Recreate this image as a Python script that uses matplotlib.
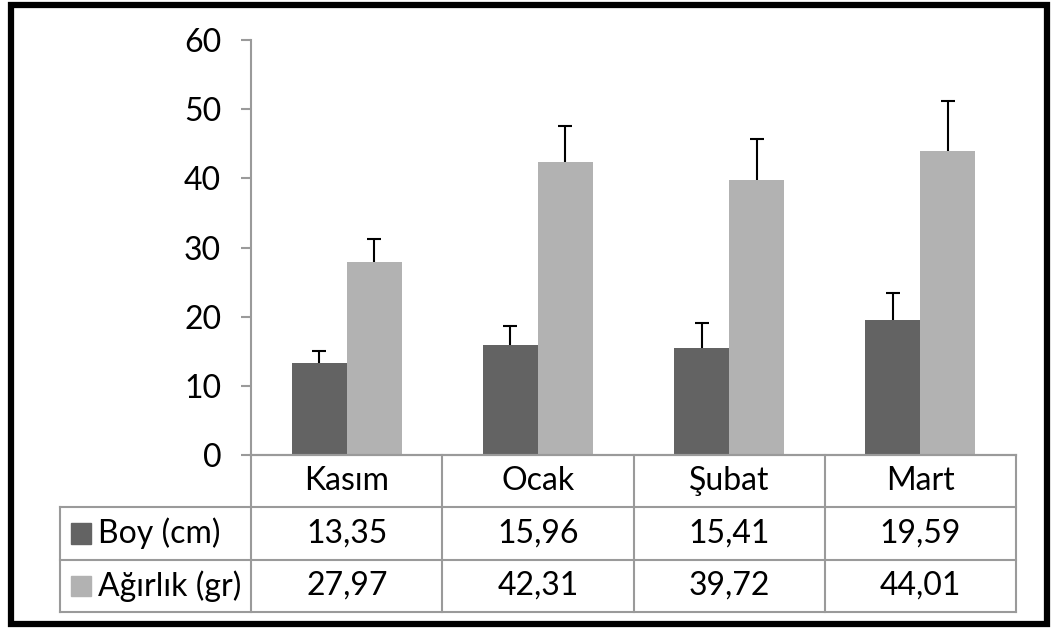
import matplotlib.pyplot as plt
from matplotlib.patches import Rectangle
from matplotlib.lines import Line2D

# data
months = ["Kasım", "Ocak", "Şubat", "Mart"]
series_names = ["Boy (cm)", "Ağırlık (gr)"]
boy = [13.35, 15.96, 15.41, 19.59]
agirlik = [27.97, 42.31, 39.72, 44.01]
boy_err = [1.7, 2.7, 3.65, 3.8]
agirlik_err = [3.3, 5.3, 6.0, 7.2]

colors = ["#636363", "#b2b2b2"]
grid_col = "#9a9a9a"
W, H = 1056, 630
FS = 23

plt.rcParams['font.family'] = ['Lato', 'DejaVu Sans']
fig = plt.figure(figsize=(W / 100, H / 100), dpi=100)

# plot area, in pixels: x 251..1016, y 40..455
ax = fig.add_axes([251 / W, (H - 455) / H, (1016 - 251) / W, (455 - 40) / H])
x = range(len(months))
bw = 55 / 191.25
for k, (vals, errs) in enumerate([(boy, boy_err), (agirlik, agirlik_err)]):
    xs = [i + (k - 0.5) * bw for i in x]
    ax.bar(xs, vals, bw, color=colors[k], zorder=2)
    _, caps, _ = ax.errorbar(xs, vals, yerr=[[0] * 4, errs], fmt='none',
                             ecolor='black', elinewidth=1.5, capsize=4.7,
                             capthick=1.5, zorder=3)
    # only the upper cap is wanted
    for c in caps:
        if list(c.get_ydata()) == list(vals):
            c.set_visible(False)
ax.set_xlim(-0.5, 3.5)
ax.set_ylim(0, 60)
ax.set_yticks(range(0, 61, 10))
ax.set_xticks([])
for s in ['top', 'right']:
    ax.spines[s].set_visible(False)
ax.spines['left'].set_color(grid_col)
ax.spines['bottom'].set_color(grid_col)
ax.spines['left'].set_linewidth(1.5)
ax.spines['bottom'].set_linewidth(1.5)
ax.tick_params(axis='y', direction='out', length=7.5, width=1.5, color=grid_col,
               labelsize=FS, pad=14)

# data table below, in pixels: x 60..1016, y 455..612
tx = fig.add_axes([60 / W, (H - 612) / H, (1016 - 60) / W, (612 - 455) / H])
tx.set_xlim(-1.5, 3.5)
tx.set_ylim(3, 0)
tx.axis('off')
lk = dict(color=grid_col, lw=1.5, clip_on=False)
tx.add_line(Line2D([-0.5, 3.5], [0, 0], **lk))
for r in [1, 2, 3]:
    tx.add_line(Line2D([-1.5, 3.5], [r, r], **lk))
tx.add_line(Line2D([-1.5, -1.5], [1, 3], **lk))
for c in range(5):
    tx.add_line(Line2D([c - 0.5, c - 0.5], [0, 3], **lk))

for i, m in enumerate(months):
    tx.text(i, 0.5, m, ha='center', va='center', fontsize=FS)
    tx.text(i, 1.5, f"{boy[i]:.2f}".replace('.', ','), ha='center', va='center', fontsize=FS)
    tx.text(i, 2.5, f"{agirlik[i]:.2f}".replace('.', ','), ha='center', va='center', fontsize=FS)

sq_w = 20 / 191.25
sq_h = 20 / 52.3
for r, (name, col) in enumerate(zip(series_names, colors)):
    tx.add_patch(Rectangle((-1.5 + 11 / 191.25, r + 1.5 - sq_h / 2), sq_w, sq_h,
                           color=col, clip_on=False))
    tx.text(-1.5 + 38 / 191.25, r + 1.5, name, ha='left', va='center', fontsize=FS)

# thick outer frame
fig.add_artist(Rectangle((11 / W, (H - 624) / H), (1047 - 11) / W, (624 - 5) / H,
                         transform=fig.transFigure, fill=False, ec='black', lw=4.5))

fig.savefig("out.png", dpi=100)
